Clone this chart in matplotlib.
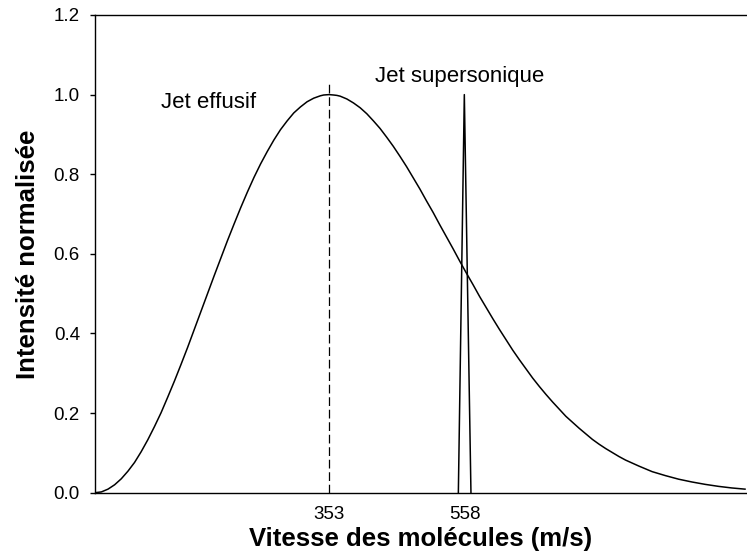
import matplotlib
matplotlib.use('Agg')
import matplotlib.pyplot as plt

plt.rcParams['font.family'] = ['Liberation Sans', 'DejaVu Sans']

# effusive jet (speed in m/s, normalised intensity)
v_eff = [0, 10, 20, 30, 40, 50, 60, 70, 80, 90, 100, 110, 120, 130, 140,
         150, 160, 170, 180, 190, 200, 210, 220, 230, 240, 250, 260, 270,
         280, 290, 300, 310, 320, 330, 340, 345, 353, 360, 365, 370, 380,
         390, 400, 410, 420, 430, 440, 450, 460, 470, 480, 490, 500, 510,
         520, 530, 540, 550, 560, 570, 580, 590, 600, 610, 620, 630, 640,
         650, 660, 670, 680, 690, 700, 710, 720, 730, 740, 750, 760, 770,
         780, 790, 800, 820, 840, 860, 880, 900, 920, 940, 960, 980]
i_eff = [0.0, 0.002, 0.009, 0.020, 0.035, 0.054, 0.076, 0.103, 0.133, 0.166,
         0.201, 0.240, 0.280, 0.322, 0.365, 0.410, 0.455, 0.500, 0.545,
         0.589, 0.633, 0.675, 0.716, 0.755, 0.792, 0.826, 0.857, 0.886,
         0.912, 0.934, 0.954, 0.969, 0.982, 0.991, 0.997, 0.999, 1.0, 0.999,
         0.998, 0.996, 0.989, 0.979, 0.967, 0.952, 0.934, 0.915, 0.893,
         0.870, 0.845, 0.819, 0.791, 0.763, 0.733, 0.704, 0.673, 0.643,
         0.613, 0.582, 0.552, 0.523, 0.493, 0.465, 0.437, 0.410, 0.384,
         0.358, 0.334, 0.311, 0.288, 0.267, 0.247, 0.228, 0.210, 0.192,
         0.177, 0.162, 0.148, 0.134, 0.122, 0.111, 0.101, 0.091, 0.082,
         0.067, 0.053, 0.043, 0.034, 0.027, 0.021, 0.016, 0.012, 0.009]

# supersonic jet: narrow spike
v_sup = [548, 557, 567]
i_sup = [0.0, 1.0, 0.0]

v_peak_eff = 353
x_ticks = [353, 558]
y_ticks = [0.0, 0.2, 0.4, 0.6, 0.8, 1.0, 1.2]

fig = plt.figure(figsize=(7.47, 5.55), dpi=100)
ax = fig.add_axes([0.1268, 0.1122, 0.8732, 0.8608])

ax.plot(v_eff, i_eff, color='black', lw=1.1)
ax.plot(v_sup, i_sup, color='black', lw=1.1)
ax.plot([v_peak_eff, v_peak_eff], [0, 1.03], color='black', lw=0.9,
        dashes=(7, 3))

ax.text(100, 0.98, 'Jet effusif', fontsize=16, va='center', ha='left')
ax.text(423, 1.045, 'Jet supersonique', fontsize=16, va='center', ha='left')

ax.set_xlim(0, 983)
ax.set_ylim(0, 1.2)
ax.set_xticks(x_ticks)
ax.set_yticks(y_ticks)
ax.set_yticklabels(['%.1f' % t for t in y_ticks])
ax.tick_params(axis='x', length=0, pad=9.5, labelsize=13.5)
ax.tick_params(axis='y', length=3.6, width=1, pad=7, labelsize=13.5,
               direction='out')

ax.spines['right'].set_visible(False)
for s in ['left', 'bottom', 'top']:
    ax.spines[s].set_linewidth(1.0)

ax.set_xlabel('Vitesse des molécules (m/s)', fontsize=18.5,
              fontweight='bold', labelpad=3)
ax.set_ylabel('Intensité normalisée', fontsize=18.5, fontweight='bold',
              labelpad=10)

fig.savefig('out.png', dpi=100)
